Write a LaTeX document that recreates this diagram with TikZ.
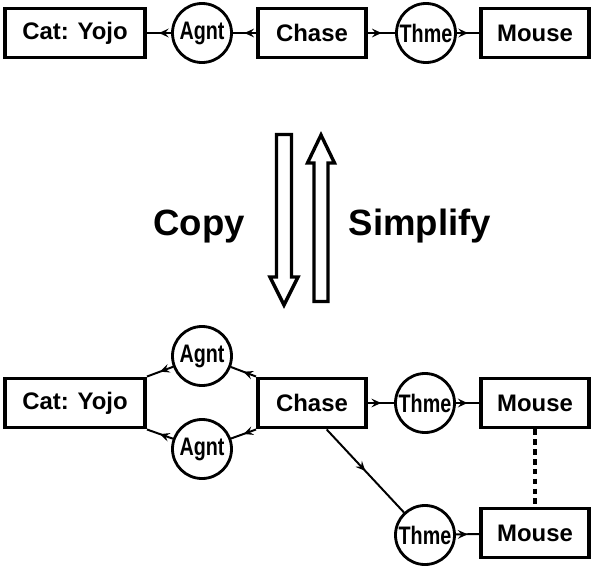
\documentclass[tikz,border=0pt]{standalone}
\usepackage{fontspec}
\setmainfont{Liberation Sans}
\newfontfamily\narrowfont[FakeStretch=0.78]{Liberation Sans}
\usetikzlibrary{arrows.meta, decorations.markings}

\begin{document}
\begin{tikzpicture}[x=0.025cm, y=-0.025cm,
  concept/.style={draw, line width=2.8pt, minimum width=#1, minimum height=1.225cm,
    inner sep=0pt, font=\fontsize{17}{20}\selectfont\bfseries},
  relation/.style={draw, circle, line width=2pt, minimum size=1.475cm, inner sep=0pt,
    font=\narrowfont\fontsize{18}{20}\selectfont\bfseries},
  link/.style={line width=1.4pt, postaction={decorate},
    decoration={markings, mark=at position 0.5 with
      {\arrow{Stealth[length=2.4mm, width=2.2mm, inset=0.9mm]}}}},
  fatarrow/.style={line width=2.4pt, line join=miter},
  bigtext/.style={font=\fontsize{26}{30}\selectfont\bfseries}]
  \useasboundingbox (0,0) rectangle (599,567);

  % original graph
  \node[concept=3.5cm] (cat) at (75,33) {Cat: Yojo};
  \node[relation] (agnt) at (202,33) {Agnt};
  \node[concept=2.7cm] (chase) at (312,33) {Chase};
  \node[relation] (thme) at (426,33) {Thme};
  \node[concept=2.7cm] (mouse) at (535,33) {Mouse};
  \draw[link] (chase) -- (agnt);
  \draw[link] (agnt) -- (cat);
  \draw[link] (chase) -- (thme);
  \draw[link] (thme) -- (mouse);

  % copy / simplify
  \draw[fatarrow] (276.5,134.5) -- (291.5,134.5) -- (291.5,277) -- (298,277)
    -- (284,305) -- (270,277) -- (276.5,277) -- cycle;
  \draw[fatarrow] (314,301.5) -- (328,301.5) -- (328,163) -- (334.5,163)
    -- (321,135) -- (307.5,163) -- (314,163) -- cycle;
  \node[bigtext, anchor=base] (copy) at (199,235) {Copy};
  \node[bigtext, anchor=base] (simplify) at (420,235) {Simplify};

  % copied graph
  \node[concept=3.5cm] (cat2) at (75,403) {Cat: Yojo};
  \node[relation] (agnt2a) at (202,356) {Agnt};
  \node[relation] (agnt2b) at (202,449) {Agnt};
  \node[concept=2.7cm] (chase2) at (312,403) {Chase};
  \node[relation] (thme2a) at (425,403) {Thme};
  \node[concept=2.7cm] (mouse2a) at (535,403) {Mouse};
  \node[relation] (thme2b) at (425,535) {Thme};
  \node[concept=2.7cm] (mouse2b) at (535,533) {Mouse};
  \draw[link] (chase2.north west) -- (agnt2a);
  \draw[link] (agnt2a) -- (cat2.north east);
  \draw[link] (chase2.south west) -- (agnt2b);
  \draw[link] (agnt2b) -- (cat2.south east);
  \draw[link] (chase2) -- (thme2a);
  \draw[link] (thme2a) -- (mouse2a);
  \draw[link] (chase2.-61) -- (thme2b);
  \draw[link] (thme2b) -- (mouse2b);
  \draw[line width=2.2pt, dash pattern=on 4pt off 3pt] (mouse2a) -- (mouse2b);
\end{tikzpicture}
\end{document}
